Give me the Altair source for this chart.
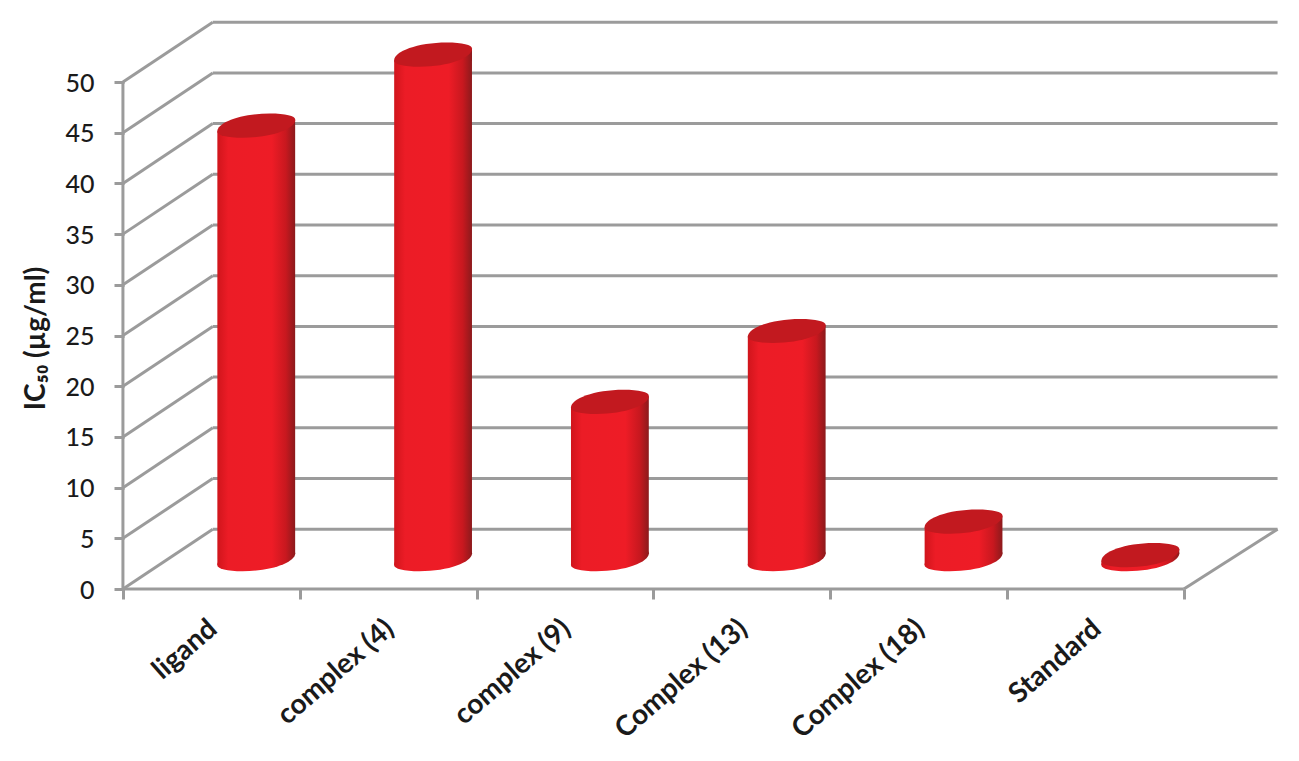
import json
import altair as alt
import pandas as pd

categories = ["ligand", "complex (4)", "complex (9)", "Complex (13)", "Complex (18)", "Standard"]
values = [42.75, 49.75, 15.5, 22.5, 3.7, 0.4]
y_ticks = [0, 5, 10, 15, 20, 25, 30, 35, 40, 45, 50]
x_ticks = [0, 1, 2, 3, 4, 5, 6]

DEPTH_X = 0.508
DEPTH_Y = 5.9
BACK_RIGHT = 6.53
HALF_W = 0.22
TILT = 0.57
X_DOM = [-0.650, 6.606]
Y_DOM = [-16.17, 57.3]
GREY = "#9b9b9b"
INK = "#1a1a1a"
FONT = "Lato"

ELLIPSE = ("M -1 0.15 C -1 -0.08 -0.4 -0.31 0.35 -0.31 C 0.75 -0.31 1 -0.25 1 -0.15 "
           "C 1 0.08 0.4 0.31 -0.35 0.31 C -0.75 0.31 -1 0.25 -1 0.15 Z")

body_fill = alt.Gradient(
    gradient="linear", x1=0, x2=1, y1=0, y2=0,
    stops=[
        alt.GradientStop(color="#d0151c", offset=0),
        alt.GradientStop(color="#ec1c26", offset=0.14),
        alt.GradientStop(color="#ee1c26", offset=0.7),
        alt.GradientStop(color="#c8181f", offset=0.88),
        alt.GradientStop(color="#8c1a1c", offset=1),
    ],
)

bars = pd.DataFrame({
    "category": categories,
    "value": values,
    "cx": [i + 0.5 + DEPTH_X / 2 for i in range(len(categories))],
})
bars["base"] = DEPTH_Y / 2
bars["top"] = bars.value + DEPTH_Y / 2

left_side = bars.assign(ex=bars.cx - HALF_W, upper=bars.top - TILT, lower=bars.base - TILT)
right_side = bars.assign(ex=bars.cx + HALF_W, upper=bars.top + TILT, lower=bars.base + TILT)
sides = pd.concat([left_side, right_side], ignore_index=True)

x_scale = alt.Scale(domain=X_DOM, nice=False, zero=False)
y_scale = alt.Scale(domain=Y_DOM, nice=False, zero=False)

front_floor = pd.DataFrame({"x": [0], "x2": [6], "y": [0], "y2": [0]})
front_axis = pd.DataFrame({"x": [0], "x2": [0], "y": [0], "y2": [50]})
left_wall = pd.DataFrame({"x": 0, "x2": DEPTH_X, "y": y_ticks, "y2": [v + DEPTH_Y for v in y_ticks]})
back_wall = pd.DataFrame({"x": DEPTH_X, "x2": BACK_RIGHT, "y": [v + DEPTH_Y for v in y_ticks],
                          "y2": [v + DEPTH_Y for v in y_ticks]})
right_floor = pd.DataFrame({"x": [6], "x2": [BACK_RIGHT], "y": [0], "y2": [DEPTH_Y]})
lines = pd.concat([back_wall, left_wall, right_floor, front_floor, front_axis], ignore_index=True)

label_expr = "(" + json.dumps(categories) + ")[datum.value] || ''"

x_axis = alt.Axis(
    values=x_ticks, grid=False, domain=False, offset=-164, orient="bottom", title=None,
    tickColor=GREY, tickWidth=3, tickSize=10,
    labelExpr=label_expr, labelAngle=-41, labelAlign="right", labelBaseline="middle",
    labelOffset=90, labelPadding=26, labelFlush=False, labelOverlap=False, labelBound=False,
    labelFont=FONT, labelFontSize=28, labelFontWeight="bold", labelColor=INK)
y_axis = alt.Axis(
    values=y_ticks, grid=False, domain=False, offset=-116, orient="left",
    tickColor=GREY, tickWidth=3, tickSize=10,
    labelFont=FONT, labelFontSize=25, labelFontWeight=500, labelColor=INK,
    labelPadding=20, labelOffset=1, labelFlush=False, labelOverlap=False, labelBound=False,
    title="IC₅₀ (µg/ml)", titleFont=FONT, titleFontSize=28, titleFontWeight="bold",
    titleColor=INK, titleAngle=270, titleX=-88, titleY=330, titleAlign="center",
    titleBaseline="middle")

walls = alt.Chart(lines).mark_rule(color=GREY, strokeWidth=3).encode(
    x=alt.X("x:Q", scale=x_scale, axis=x_axis),
    x2="x2:Q",
    y=alt.Y("y:Q", scale=y_scale, axis=y_axis),
    y2="y2:Q",
)

bottom_caps = alt.Chart(bars).mark_point(
    shape=ELLIPSE, filled=True, fill=body_fill, opacity=1, strokeWidth=0, size=6084
).encode(
    x=alt.X("cx:Q", scale=x_scale, axis=x_axis),
    y=alt.Y("base:Q", scale=y_scale, axis=y_axis),
)

bodies = alt.Chart(sides).mark_area(fill=body_fill, opacity=1, strokeWidth=0).encode(
    x=alt.X("ex:Q", scale=x_scale, axis=x_axis),
    y=alt.Y("upper:Q", scale=y_scale, axis=y_axis),
    y2="lower:Q",
    detail="category:N",
)

top_caps = alt.Chart(bars).mark_point(
    shape=ELLIPSE, filled=True, fill="#c2191f", opacity=1, strokeWidth=0, size=6084
).encode(
    x=alt.X("cx:Q", scale=x_scale, axis=x_axis),
    y=alt.Y("top:Q", scale=y_scale, axis=y_axis),
)

chart = (walls + bottom_caps + bodies + top_caps).properties(
    width=1283, height=745, padding=0, background="white",
    autosize=alt.AutoSizeParams(type="none"),
).configure_view(stroke=None)

chart.save("out.html", embed_options={"renderer": "svg", "actions": False})
